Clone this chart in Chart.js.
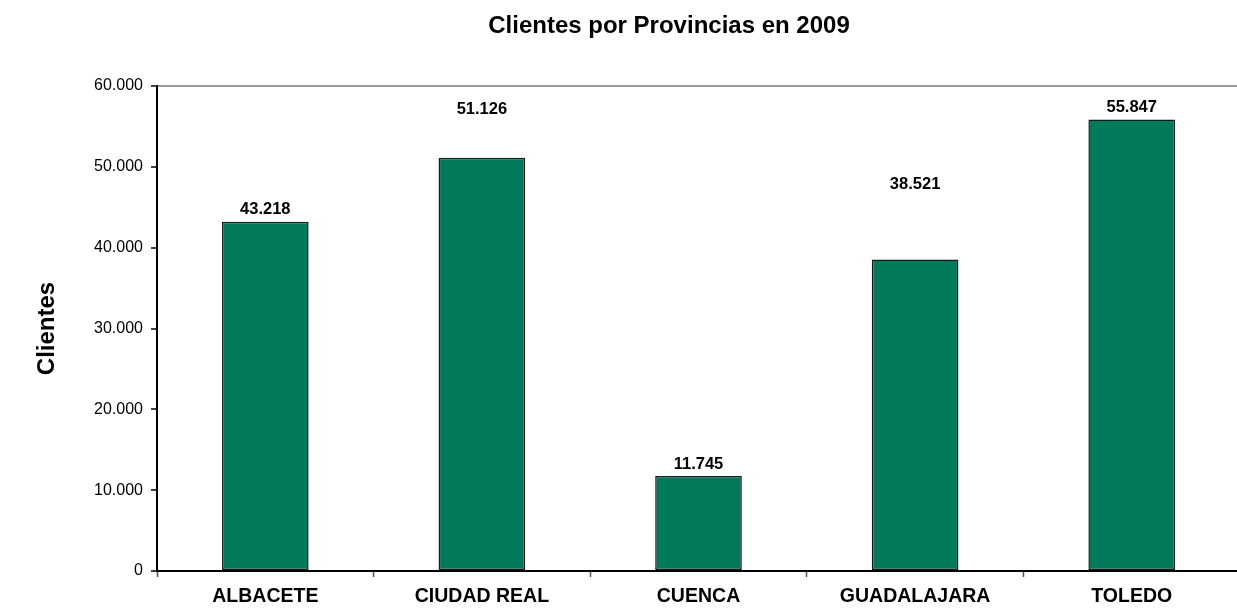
<!DOCTYPE html>
<html>
<head>
<meta charset="utf-8">
<script src="https://cdn.jsdelivr.net/npm/chart.js@4.4.1/dist/chart.umd.min.js"></script>
<style>
  html, body { margin: 0; padding: 0; background: #fff; overflow: hidden; }
  #wrap { width: 1245px; height: 610px; }
</style>
</head>
<body>
<div id="wrap"><canvas id="chart-clientes"></canvas></div>
<script>
const provincias = ['ALBACETE', 'CIUDAD REAL', 'CUENCA', 'GUADALAJARA', 'TOLEDO'];
const clientes   = [43218, 51126, 11745, 38521, 55847];
const yTicks     = [0, 10000, 20000, 30000, 40000, 50000, 60000];

const titulo  = 'Clientes por Provincias en 2009';
const ejeY    = 'Clientes';

/* how far some value labels sit above their bar (px), as in the original sheet */
const labelLift = [0, 36, 0, 63, 0];

const FONT = "'Liberation Sans', Arial, sans-serif";
const fmtNum = v => String(v).replace(/\B(?=(\d{3})+(?!\d))/g, '.');

const valueLabels = {
  id: 'valueLabels',
  afterDatasetsDraw(chart) {
    const { ctx } = chart;
    const meta = chart.getDatasetMeta(0);
    ctx.save();
    ctx.font = `bold 16.5px ${FONT}`;
    ctx.fillStyle = '#000';
    ctx.textAlign = 'center';
    ctx.textBaseline = 'middle';
    meta.data.forEach((bar, i) => {
      ctx.fillText(fmtNum(clientes[i]), bar.x, bar.y - 12 - labelLift[i]);
    });
    ctx.restore();
  }
};

const chartTitle = {
  id: 'chartTitle',
  afterDraw(chart) {
    const { ctx } = chart;
    ctx.save();
    ctx.font = `bold 24px ${FONT}`;
    ctx.fillStyle = '#000';
    ctx.textAlign = 'center';
    ctx.textBaseline = 'middle';
    ctx.fillText(titulo, 669, 26);
    ctx.restore();
  }
};

new Chart(document.getElementById('chart-clientes'), {
  type: 'bar',
  data: {
    labels: provincias,
    datasets: [{
      label: ejeY,
      data: clientes,
      backgroundColor: '#007A5A',
      borderColor: '#1a1a1a',
      borderWidth: 1.5,
      borderSkipped: false,
      barPercentage: 0.4,
      categoryPercentage: 1,
    }],
  },
  options: {
    responsive: true,
    maintainAspectRatio: false,
    animation: false,
    layout: { padding: { top: 86, right: 5, left: 0, bottom: 0 } },
    plugins: {
      legend: { display: false },
      tooltip: { enabled: false },
      title: { display: false },
    },
    scales: {
      x: {
        offset: true,
        afterFit: s => { s.height = 39; },
        grid: {
          offset: true,
          drawOnChartArea: false,
          tickLength: 6,
          tickColor: '#555',
          tickWidth: 1.5,
        },
        border: { color: '#000', width: 2 },
        ticks: {
          color: '#000',
          padding: 8,
          font: { family: FONT, size: 19.5, weight: 'bold' },
          maxRotation: 0,
        },
      },
      y: {
        min: 0,
        max: 60000,
        afterFit: s => { s.width = 157; },
        afterBuildTicks: s => { s.ticks = yTicks.map(v => ({ value: v })); },
        grid: {
          color: c => (c.tick && c.tick.value === 60000 ? '#999' : 'rgba(0,0,0,0)'),
          lineWidth: 2,
          tickLength: 6,
          tickColor: '#000',
          tickWidth: 1.5,
        },
        border: { color: '#000', width: 2 },
        ticks: {
          color: '#000',
          padding: 8,
          font: { family: FONT, size: 16 },
          callback: v => fmtNum(v),
        },
        title: {
          display: true,
          text: ejeY,
          color: '#000',
          font: { family: FONT, size: 24, weight: 'bold' },
          padding: { top: 33, bottom: 0 },
        },
      },
    },
  },
  plugins: [valueLabels, chartTitle],
});
</script>
</body>
</html>
